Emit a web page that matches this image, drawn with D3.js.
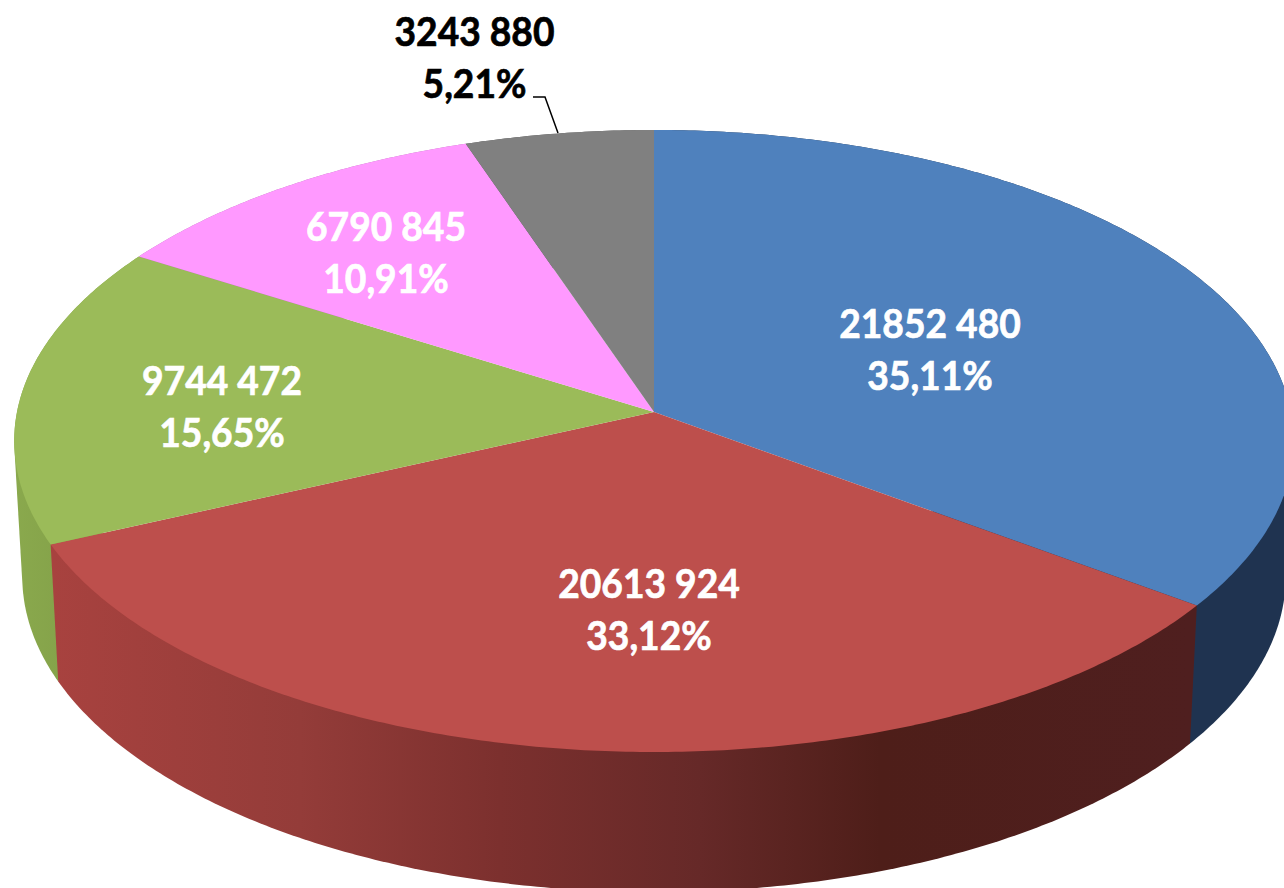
<!DOCTYPE html>
<html><head><meta charset="utf-8">
<script src="https://cdn.jsdelivr.net/npm/d3@7/dist/d3.min.js"></script>
<style>html,body{margin:0;padding:0;background:#fff}svg{display:block}
text{font-family:Lato,"Open Sans",sans-serif;font-weight:700;text-anchor:middle}</style>
</head><body><svg id="c" width="1284" height="888"></svg>
<script>
const categories=["A","B","C","D","E"];
const values=[21852480,20613924,9744472,6790845,3243880];
const topColors=["#4f81bd","#bd4f4c","#9bbb59","#ff99ff","#808080"];
const labelColors=["#fff","#fff","#fff","#fff","#000"];
const labelX=[930,649,222,386,474.5];
const labelY=[338,598,395,241,46];
const sideOrder=[3,4,2,0,1];

const svg=d3.select("#c");
const W=1284,H=888,k=0.0932;
const project=(a,p)=>{ // a clockwise from 12 o'clock
  const u=Math.sin(a),v=-Math.cos(a),w=1-k*v;
  return [654+p.a*u/w,p.y0+p.b*v/w];
};
const topP={a:637,b:308.3,y0:412},botP={a:629,b:313,y0:547};
const total=d3.sum(values);
const arcs=d3.pie().sort(null).value(d=>d)(values);
const arcPts=(s,e,p)=>{const n=Math.max(8,Math.ceil((e-s)/0.01));
  return d3.range(n+1).map(i=>project(s+(e-s)*i/n,p));};
const line=d3.line();
const defs=svg.append("defs");
const mkGrad=(id,stops)=>{const g=defs.append("linearGradient").attr("id",id)
  .attr("gradientUnits","userSpaceOnUse").attr("x1",0).attr("x2",W).attr("y1",0).attr("y2",0);
  stops.forEach(([x,c])=>g.append("stop").attr("offset",x/W).attr("stop-color",c));};
mkGrad("sideRed",[[52,"#a8423f"],[300,"#943c39"],[500,"#7c302e"],[700,"#662928"],[880,"#4e1e19"],[1190,"#4f1f1f"]]);
mkGrad("sideGreen",[[14,"#8aa94d"],[60,"#85a34a"]]);
const sideFill=["#1f3350","url(#sideRed)","url(#sideGreen)","#b070b0","#595959"];

// each side wall is the hull of its top and bottom rims, so the outer silhouette is a tangent
svg.append("g").selectAll("path").data(sideOrder).join("path")
  .attr("d",i=>{const d=arcs[i];
    return line(d3.polygonHull(arcPts(d.startAngle,d.endAngle,topP).concat(arcPts(d.startAngle,d.endAngle,botP))))+"Z";})
  .attr("fill",i=>sideFill[i]);

svg.append("g").selectAll("path").data(arcs).join("path")
  .attr("d",d=>line([[654,412]].concat(arcPts(d.startAngle,d.endAngle,topP)))+"Z")
  .attr("fill",(d,i)=>topColors[i]);

// leader line of the smallest slice
svg.append("path").attr("d",line([[533,97],[545,97],[558,133]]))
  .attr("fill","none").attr("stroke","#000").attr("stroke-width",1.5);

const fmtVal=v=>`${Math.floor(v/1000)} ${String(v%1000).padStart(3,"0")}`;
const fmtPct=v=>(v/total*100).toFixed(2).replace(".",",")+"%";
const lab=svg.append("g").selectAll("g").data(values).join("g")
  .attr("transform",(d,i)=>`translate(${labelX[i]},${labelY[i]}) scale(0.93,1)`)
  .attr("fill",(d,i)=>labelColors[i]).attr("stroke",(d,i)=>labelColors[i])
  .attr("stroke-width",0.7).attr("font-size",40);
lab.append("text").text(fmtVal);
lab.append("text").attr("y",52.5).text(fmtPct);
</script></body></html>
